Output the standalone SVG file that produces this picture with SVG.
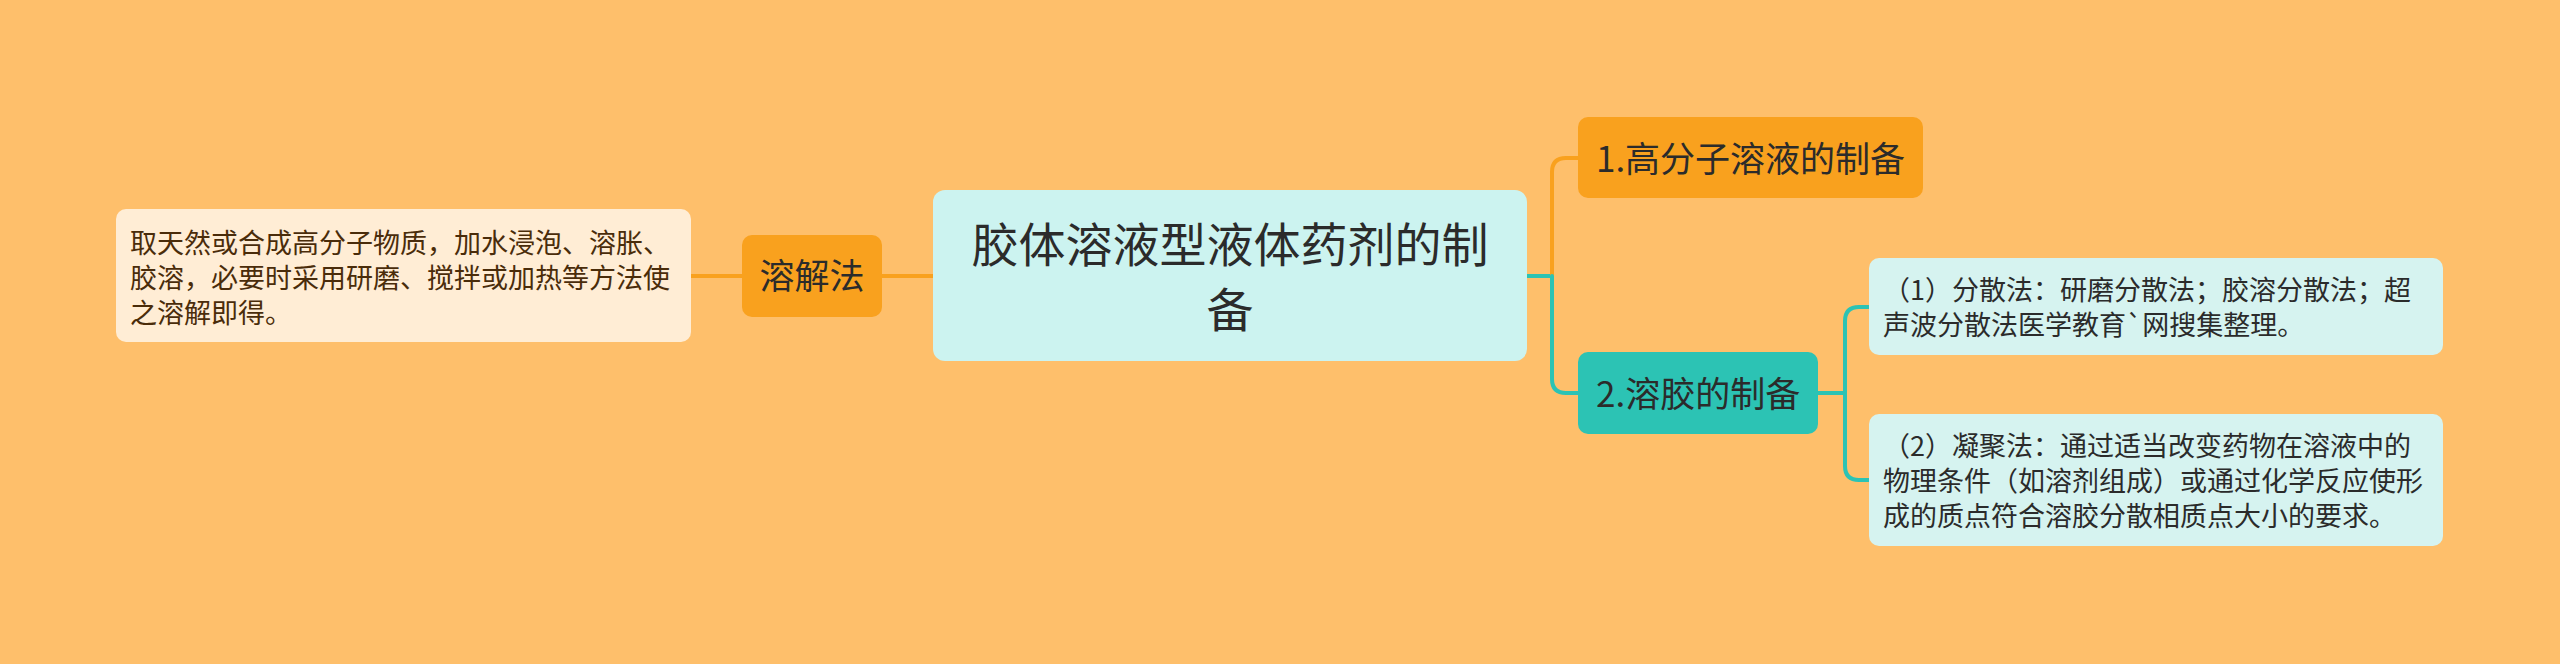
<svg xmlns="http://www.w3.org/2000/svg" width="2560" height="664" viewBox="0 0 2560 664">
<style>
text{font-family:"Noto Sans CJK SC","Noto Sans",sans-serif;}
.c{fill:none;stroke-width:4;stroke-linecap:round;}
.o{stroke:#F9A11E;}
.t{stroke:#2CC3B4;}
.desc{font-size:27px;}
.main{font-size:35px;fill:#2B2B2B;}
</style>
<rect width="2560" height="664" fill="#FEBF6B"/>
<g id="connectors">
<path class="c o" d="M691,276 H742"/>
<path class="c o" d="M882,276 H933"/>
<path class="c t" d="M1527,276 H1552"/>
<path class="c o" d="M1552,276 V172 Q1552,158 1566,158 H1578"/>
<path class="c t" d="M1552,276 V379 Q1552,393 1566,393 H1578"/>
<path class="c t" d="M1818,393 H1845"/>
<path class="c t" d="M1845,393 V321 Q1845,307 1859,307 H1869"/>
<path class="c t" d="M1845,393 V466 Q1845,480 1859,480 H1869"/>
</g>
<g id="central">
<rect x="933" y="190" width="594" height="171" rx="12" fill="#CCF3F0"/>
<text x="1230" y="262" font-size="47" fill="#2B2B2B" text-anchor="middle">胶体溶液型液体药剂的制</text>
<text x="1230" y="327" font-size="47" fill="#2B2B2B" text-anchor="middle">备</text>
</g>
<g id="rongjiefa">
<rect x="742" y="235" width="140" height="82" rx="10" fill="#F9A11E"/>
<text class="main" x="812" y="289" text-anchor="middle">溶解法</text>
</g>
<g id="rongjiefa-desc">
<rect x="116" y="209" width="575" height="133" rx="10" fill="#FFEDD5"/>
<text class="desc" fill="#4A2C0A" x="130" y="253">取天然或合成高分子物质，加水浸泡、溶胀、</text>
<text class="desc" fill="#4A2C0A" x="130" y="288">胶溶，必要时采用研磨、搅拌或加热等方法使</text>
<text class="desc" fill="#4A2C0A" x="130" y="323">之溶解即得。</text>
</g>
<g id="node1">
<rect x="1578" y="117" width="345" height="81" rx="10" fill="#F9A11E"/>
<text class="main" x="1596" y="172" textLength="309" lengthAdjust="spacing">1.高分子溶液的制备</text>
</g>
<g id="node2">
<rect x="1578" y="352" width="240" height="82" rx="10" fill="#2CC3B4"/>
<text class="main" x="1596" y="407">2.溶胶的制备</text>
</g>
<g id="child1">
<rect x="1869" y="258" width="574" height="97" rx="10" fill="#D6F3F0"/>
<text class="desc" fill="#2B2B2B" x="1883" y="300">（1）分散法：研磨分散法；胶溶分散法；超</text>
<text class="desc" fill="#2B2B2B" x="1883" y="335">声波分散法医学教育`网搜集整理。</text>
</g>
<g id="child2">
<rect x="1869" y="414" width="574" height="132" rx="10" fill="#D6F3F0"/>
<text class="desc" fill="#2B2B2B" x="1883" y="456">（2）凝聚法：通过适当改变药物在溶液中的</text>
<text class="desc" fill="#2B2B2B" x="1883" y="491">物理条件（如溶剂组成）或通过化学反应使形</text>
<text class="desc" fill="#2B2B2B" x="1883" y="526">成的质点符合溶胶分散相质点大小的要求。</text>
</g>
</svg>
